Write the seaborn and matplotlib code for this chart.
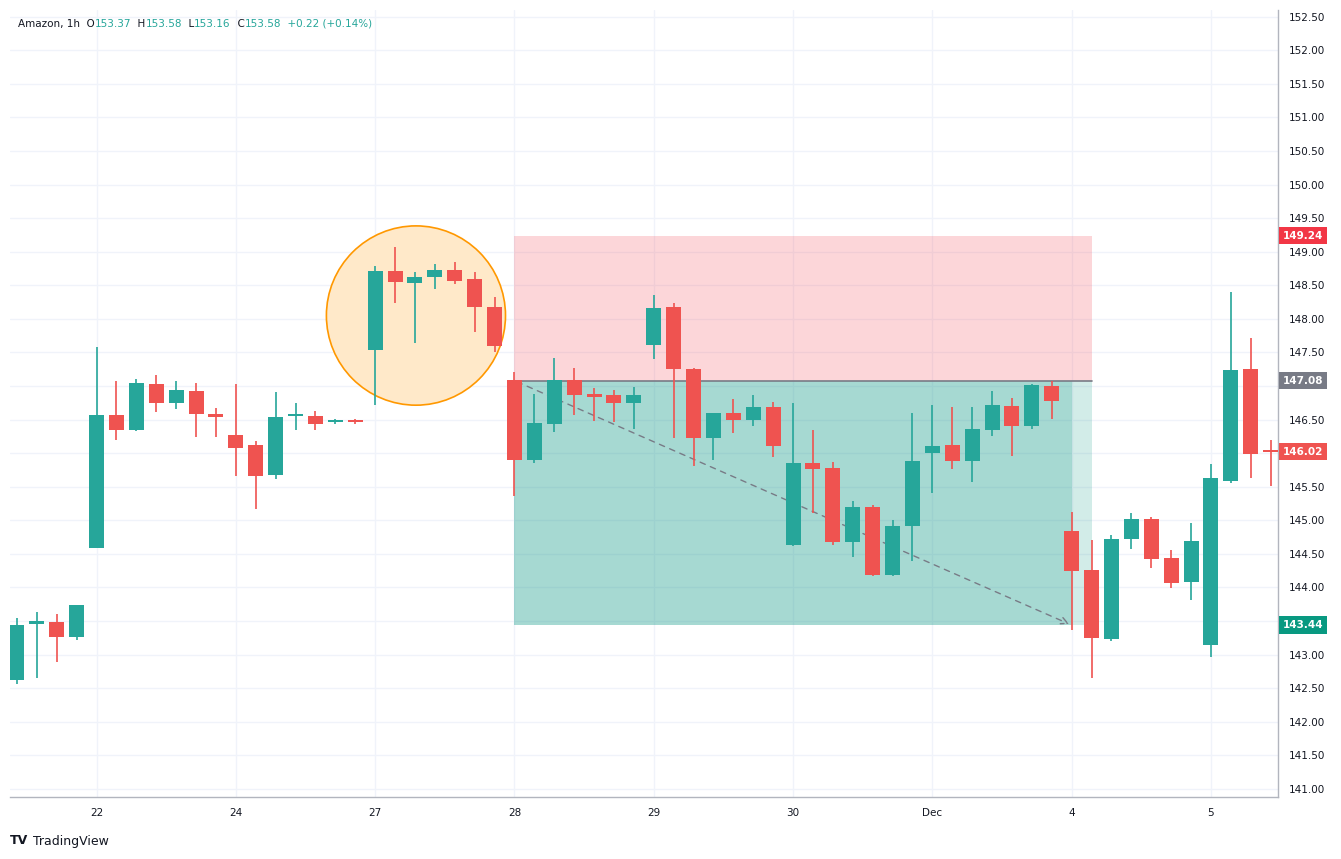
import numpy as np
import pandas as pd
import matplotlib
matplotlib.use("Agg")
import matplotlib.pyplot as plt
from matplotlib.patches import Ellipse, Rectangle
import seaborn as sns

# ── Data (Amazon, 1h candles) ────────────────────────────────────────────────
opens  = [142.62, 143.45, 143.49, 143.26, 144.59, 146.57, 146.35, 147.03, 146.75, 146.93,
          146.59, 146.27, 146.12, 145.68, 146.55, 146.56, 146.47, 146.49, 147.54, 148.72,
          148.54, 148.63, 148.73, 148.60, 148.18, 147.09, 145.90, 146.44, 147.09, 146.88,
          146.87, 146.74, 147.61, 148.18, 147.26, 146.23, 146.60, 146.50, 146.69, 144.63,
          145.86, 145.78, 144.68, 145.20, 144.18, 144.92, 146.01, 146.12, 145.89, 146.35,
          146.71, 146.41, 147.00, 144.84, 144.26, 143.24, 144.72, 145.02, 144.44, 144.08,
          143.14, 145.59, 147.26, 146.03]
highs  = [143.55, 143.64, 143.60, 143.74, 147.58, 147.08, 147.10, 147.17, 147.08, 147.05,
          146.68, 147.03, 146.18, 146.91, 146.74, 146.63, 146.51, 146.51, 148.79, 149.07,
          148.70, 148.82, 148.84, 148.70, 148.33, 147.21, 146.88, 147.42, 147.27, 146.97,
          146.94, 146.99, 148.36, 148.24, 147.27, 146.60, 146.81, 146.87, 146.76, 146.75,
          146.35, 145.87, 145.29, 145.23, 145.00, 146.60, 146.72, 146.69, 146.69, 146.93,
          146.82, 147.03, 147.08, 145.13, 144.71, 144.78, 145.11, 145.05, 144.56, 144.96,
          145.84, 148.40, 147.72, 146.20]
lows   = [142.56, 142.65, 142.89, 143.22, 144.59, 146.20, 146.33, 146.62, 146.66, 146.24,
          146.24, 145.66, 145.17, 145.62, 146.35, 146.35, 146.44, 146.44, 146.72, 148.24,
          147.64, 148.45, 148.52, 147.81, 147.51, 145.36, 145.86, 146.32, 146.57, 146.48,
          146.47, 146.36, 147.41, 146.23, 145.81, 145.90, 146.30, 146.41, 145.95, 144.62,
          145.11, 144.63, 144.46, 144.17, 144.17, 144.40, 145.41, 145.77, 145.57, 146.26,
          145.96, 146.36, 146.51, 143.37, 142.65, 143.20, 144.58, 144.29, 143.99, 143.82,
          142.97, 145.56, 145.63, 145.51]
closes = [143.44, 143.50, 143.26, 143.74, 146.57, 146.35, 147.05, 146.75, 146.94, 146.59,
          146.54, 146.08, 145.66, 146.54, 146.58, 146.44, 146.49, 146.47, 148.72, 148.55,
          148.63, 148.73, 148.57, 148.17, 147.60, 145.90, 146.45, 147.09, 146.87, 146.84,
          146.74, 146.86, 148.16, 147.26, 146.23, 146.60, 146.50, 146.69, 146.11, 145.86,
          145.77, 144.68, 145.20, 144.19, 144.92, 145.89, 146.10, 145.89, 146.36, 146.72,
          146.41, 147.02, 146.78, 144.25, 143.25, 144.72, 145.02, 144.43, 144.07, 144.69,
          145.63, 147.24, 145.99, 146.02]

day_labels = ["22", "24", "27", "28", "29", "30", "Dec", "4", "5"]
day_index  = [4, 11, 18, 25, 32, 39, 46, 53, 60]

entry, stop, target = 147.08, 149.24, 143.44
last_price = 146.02

header = [("Amazon, 1h  O", "dark"), ("153.37", "up"), ("  H", "dark"), ("153.58", "up"),
          ("  L", "dark"), ("153.16", "up"), ("  C", "dark"), ("153.58", "up"),
          ("  +0.22 (+0.14%)", "up")]

df = pd.DataFrame({"o": opens, "h": highs, "l": lows, "c": closes})
df["i"] = np.arange(len(df))
df["up"] = df["c"] >= df["o"]

UP, DOWN = "#26a69a", "#ef5350"
DARK = "#131722"
GRID = "#f0f3fa"

sns.set_theme(style="white", rc={"font.family": "DejaVu Sans"})
fig = plt.figure(figsize=(13.41, 8.59), dpi=100)
ax = fig.add_axes([10 / 1341, 62 / 859, 1268 / 1341, 787 / 859])

x0, x1 = -0.35, 63.37
y0, y1 = 140.88, 152.60
ax.set_xlim(x0, x1)
ax.set_ylim(y0, y1)

# grid
yt = np.arange(141.0, 152.51, 0.5)
for yv in yt:
    ax.axhline(yv, color=GRID, lw=1, zorder=0)
for xv in day_index:
    ax.axvline(xv, color=GRID, lw=1, zorder=0)

# long/short position tool
ax.add_patch(Rectangle((25, entry), 29, stop - entry, color="#f23645", alpha=0.2, lw=0, zorder=1))
ax.add_patch(Rectangle((25, target), 28, entry - target, color="#22a08f", alpha=0.4, lw=0, zorder=1))
ax.add_patch(Rectangle((53, target), 1, entry - target, color="#22a08f", alpha=0.2, lw=0, zorder=1))
ax.plot([25, 54], [entry, entry], color="#787b86", lw=1.2, zorder=2)
ax.annotate("", xy=(53, target), xytext=(25, entry),
            arrowprops=dict(arrowstyle="->", color="#787b86", lw=1, ls=(0, (4, 4))), zorder=2)

# highlight circle
ax.add_patch(Ellipse((20.05, 148.05), 9.0, 2.67, facecolor="#ffe9c9", edgecolor="#ff9800", lw=1.2, zorder=1))

# candles
colors = np.where(df["up"], UP, DOWN)
ax.vlines(df["i"], df["l"], df["h"], colors=colors, lw=1.2, zorder=3)
body = (df["c"] - df["o"]).abs().clip(lower=0.025)
ax.bar(df["i"], body, bottom=np.minimum(df["o"], df["c"]), width=0.75, color=colors, lw=0, zorder=4)

# axes styling
for s in ["top", "left"]:
    ax.spines[s].set_visible(False)
for s in ["right", "bottom"]:
    ax.spines[s].set_color("#b2b5be")
    ax.spines[s].set_linewidth(1)
ax.yaxis.tick_right()
tags = [stop, entry, last_price, target]
ax.set_yticks(yt)
# labels hidden behind the price tags are left blank
ax.set_yticklabels(["" if min(abs(v - t) for t in tags) < 0.2 else f"{v:.2f}" for v in yt],
                   fontsize=7.5, color=DARK)
ax.set_xticks(day_index)
ax.set_xticklabels(day_labels, fontsize=7.5, color=DARK)
ax.tick_params(axis="both", length=0, pad=8)

# price tags on the scale
for val, col in [(stop, "#f23645"), (entry, "#787b86"), (last_price, DOWN), (target, "#089981")]:
    ax.text(1.004, (val - y0) / (y1 - y0), f"{val:.2f}", transform=ax.transAxes, fontsize=7.5,
            fontweight="bold", color="white", va="center", ha="left",
            bbox=dict(boxstyle="square,pad=0.35", fc=col, ec="none"))

# header, chained piece by piece
t = fig.text(18 / 1341, 1 - 24 / 859, header[0][0], fontsize=7.5, color=DARK, va="center")
for txt, kind in header[1:]:
    t = ax.annotate(txt, xy=(1, 0.5), xycoords=t, va="center", ha="left",
                    fontsize=7.5, color=UP if kind == "up" else DARK, annotation_clip=False)

fig.text(10 / 1341, 1 - 841 / 859, "TV", fontsize=9, fontweight="bold", color=DARK, va="center")
fig.text(33 / 1341, 1 - 841 / 859, "TradingView", fontsize=9, color=DARK, va="center")

fig.savefig("out.png", dpi=100, facecolor="white")
